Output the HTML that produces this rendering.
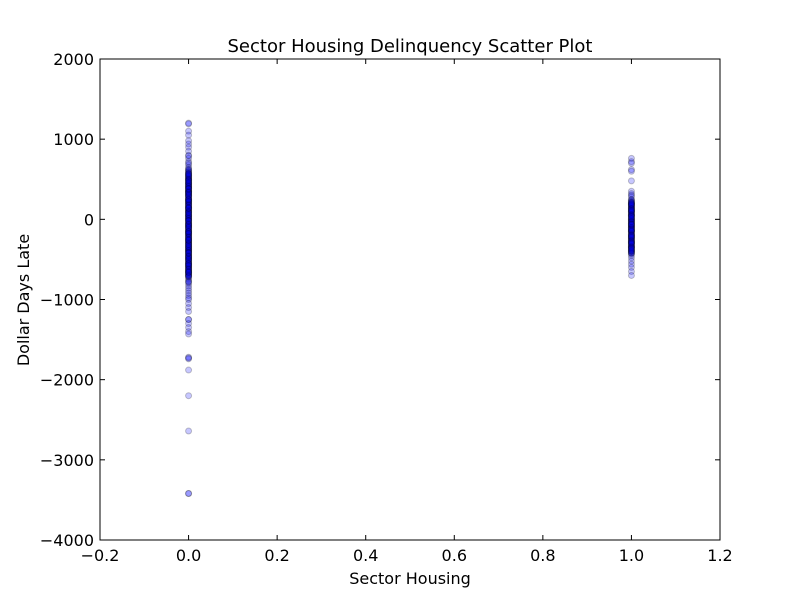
<!DOCTYPE html>
<html><head><meta charset="utf-8"><style>
body{margin:0;background:#fff;font-family:"Liberation Sans","DejaVu Sans",sans-serif;}
svg text{font-family:"DejaVu Sans","Liberation Sans",sans-serif;}
</style></head><body>
<svg id="chart" width="800" height="600">
<rect x="0" y="0" width="800" height="600" fill="#fff"/>
<text x="410" y="52" font-size="18" text-anchor="middle">Sector Housing Delinquency Scatter Plot</text>
<g id="points"></g>
<rect x="100" y="59" width="620" height="481" fill="none" stroke="#000" stroke-width="1"/>
<g id="axes"></g>
<text x="410" y="584" font-size="16" text-anchor="middle">Sector Housing</text>
<text x="0" y="0" font-size="16" text-anchor="middle" transform="translate(29,300) rotate(-90)">Dollar Days Late</text>
</svg>
<script>
const xTicks=[-0.2,0,0.2,0.4,0.6,0.8,1.0,1.2];
const xTickLabels=["\u22120.2","0.0","0.2","0.4","0.6","0.8","1.0","1.2"];
const yTicks=[2000,1000,0,-1000,-2000,-3000,-4000];
const yTickLabels=["2000","1000","0","\u22121000","\u22122000","\u22123000","\u22124000"];
const group0Values=[1200,1190,1100,1050,980,940,900,850,800,790,760,720,700,680,650,630,610,600,580,560,540,520,500,480,460,440,420,400,380,360,350,340,320,300,280,260,240,220,200,180,160,140,120,100,80,60,40,20,0,-20,-40,-60,-80,-100,-120,-140,-160,-180,-200,-220,-240,-260,-280,-300,-320,-340,-360,-380,-400,-420,-440,-460,-480,-500,-520,-540,-560,-580,-600,-620,-640,-660,-680,-700,-720,-740,-760,-780,-800,-830,-860,-890,-920,-950,-980,-1000,-1050,-1100,-1150,-1250,-1250,-1300,-1350,-1400,-1430,-1720,-1730,-1740,-1880,-2200,-2640,-3420,-3420,500,400,300,200,100,0,-100,-200,-300,-400,-500,-600,-700,450,350,250,150,50,-50,-150,-250,-350,-450,-550,-650,620,520,420,320,220,120,20,-80,-180,-280,-380,-480,-580,-680,-780,
590,570,550,530,510,490,470,450,430,410,390,370,350,330,310,290,270,250,230,210,190,170,150,130,110,90,70,50,30,10,-10,-30,-50,-70,-90,-110,-130,-150,-170,-190,-210,-230,-250,-270,-290,-310,-330,-350,-370,-390,-410,-430,-450,-470,-490,-510,-530,-550,-570,-590,-610,-630,-650,-670,-690,-710,
560,480,440,380,340,280,240,180,140,80,40,-20,-60,-120,-160,-220,-260,-320,-360,-420,-460,-520,-560,-620,-660,
570,490,410,330,250,170,90,10,-70,-150,-230,-310,-390,-470,-550,-630,-710,
540,460,380,300,220,140,60,-20,-100,-180,-260,-340,-420,-500,-580,-660];
const group1Values=[760,720,700,620,600,480,350,320,300,280,250,230,210,190,170,150,130,110,90,70,50,30,10,-10,-30,-50,-70,-90,-110,-130,-150,-170,-190,-210,-230,-250,-270,-290,-310,-330,-350,-370,-390,-410,-430,-450,-480,-520,-560,-600,-650,-700,200,150,100,50,0,-50,-100,-150,-200,-250,-300,-350,-400,180,120,60,-20,-80,-140,-220,-280,-340,-420,
240,220,200,180,160,140,120,100,80,60,40,20,0,-20,-40,-60,-80,-100,-120,-140,-160,-180,-200,-220,-240,-260,-280,-300,-320,-340,-360,-380,-400,-420,
210,170,130,90,50,10,-30,-70,-110,-150,-190,-230,-270,-310,-350,-390,
190,110,30,-60,-130,-210,-290,-370];
const groupX=[0,1];
const NS="http://www.w3.org/2000/svg";
const X0=100,X1=720,Y0=540,Y1=59;
function sx(v){return X0+(v-(-0.2))/(1.4)*(X1-X0);}
function sy(v){return Y0-(v-(-4000))/6000*(Y0-Y1);}
const axes=document.getElementById('axes');
function mk(t,a,p){const e=document.createElementNS(NS,t);for(const k in a)e.setAttribute(k,a[k]);(p||axes).appendChild(e);return e;}
xTicks.forEach((v,i)=>{const x=sx(v);
 mk('line',{x1:x,x2:x,y1:Y0,y2:Y0-5,stroke:'#000'});
 mk('line',{x1:x,x2:x,y1:Y1,y2:Y1+5,stroke:'#000'});
 const t=mk('text',{x:x,y:Y0+21,'font-size':16,'text-anchor':'middle'});t.textContent=xTickLabels[i];
 
 
});
yTicks.forEach((v,i)=>{const y=sy(v);
 mk('line',{x1:X0,x2:X0+5,y1:y,y2:y,stroke:'#000'});
 mk('line',{x1:X1,x2:X1-5,y1:y,y2:y,stroke:'#000'});
 const t=mk('text',{x:X0-6,y:y+6,'font-size':16,'text-anchor':'end'});t.textContent=yTickLabels[i];
 
 
});
const pts=document.getElementById('points');
[group0Values,group1Values].forEach((arr,g)=>{arr.forEach(v=>{
 const c=mk('circle',{cx:sx(groupX[g]),cy:sy(v),r:3,fill:'rgba(0,0,255,0.22)',stroke:'rgba(0,0,0,0.22)','stroke-width':1},pts);
 
 
});});
</script>
</body></html>
